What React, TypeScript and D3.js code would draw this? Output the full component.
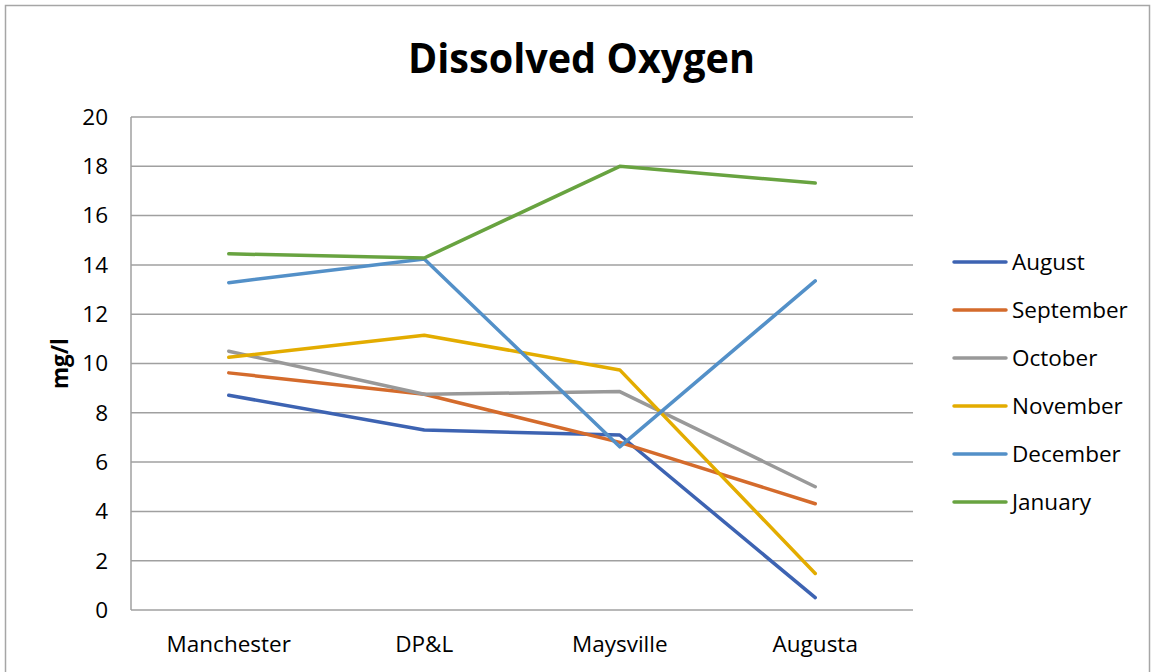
import React from "react";
import * as d3 from "d3";

const categories = ["Manchester", "DP&L", "Maysville", "Augusta"];
const seriesNames = ["August", "September", "October", "November", "December", "January"];
const august = [8.71, 7.3, 7.1, 0.5];
const september = [9.62, 8.75, 6.8, 4.31];
const october = [10.5, 8.75, 8.86, 5.0];
const november = [10.25, 11.15, 9.74, 1.48];
const december = [13.28, 14.24, 6.62, 13.35];
const january = [14.45, 14.28, 18.0, 17.32];
const colors = ["#3D63B2", "#D46B2C", "#999999", "#E3AC00", "#5390C8", "#68A340"];
const yTicks = [0, 2, 4, 6, 8, 10, 12, 14, 16, 18, 20];

const allSeries = [august, september, october, november, december, january];

export default function App() {
  const W = 1153, H = 672;
  const left = 131, right = 913, top = 117, bottom = 610;
  const x = d3.scaleBand().domain(categories).range([left, right]);
  const y = d3.scaleLinear().domain([0, 20]).range([bottom, top]);
  const line = d3
    .line<number>()
    .x((_, i) => (x(categories[i]) as number) + x.bandwidth() / 2)
    .y((d) => y(d));
  const font = "'Open Sans', Lato, sans-serif";
  const fs = 22.5;
  return (
    <svg width={W} height={H} style={{ position: "absolute", left: 0, top: 0 }} fontFamily={font}>
      <rect x={0} y={0} width={W} height={H} fill="#fff" />
      <rect x={5.5} y={5.5} width={1144} height={700} fill="none" stroke="#a6a6a6" strokeWidth={1.5} />
      <text x={581.5} y={73} textAnchor="middle" fontSize={42} fontWeight="bold" fill="#000" textLength={347} lengthAdjust="spacingAndGlyphs">
        Dissolved Oxygen
      </text>
      {yTicks.map((t) => (
        <g key={t}>
          <line x1={left} x2={right} y1={y(t)} y2={y(t)} stroke="#a0a0a0" strokeWidth={1.5} />
          <text x={108} y={y(t)} dy="0.35em" textAnchor="end" fontSize={fs} fill="#000">
            {t}
          </text>
        </g>
      ))}
      <line x1={left} x2={left} y1={top} y2={bottom} stroke="#a0a0a0" strokeWidth={1.5} />
      {categories.map((c) => (
        <text key={c} x={(x(c) as number) + x.bandwidth() / 2} y={652} textAnchor="middle" fontSize={fs} fill="#000">
          {c}
        </text>
      ))}
      <text transform={`translate(68,${y(10)}) rotate(-90)`} textAnchor="middle" fontSize={fs} fontWeight="bold" fill="#000">
        mg/l
      </text>
      {allSeries.map((s, i) => (
        <path key={i} d={line(s) as string} fill="none" stroke={colors[i]} strokeWidth={3.5} strokeLinecap="round" strokeLinejoin="round" />
      ))}
      {seriesNames.map((n, i) => (
        <g key={n} transform={`translate(0,${262 + i * 48})`}>
          <line x1={954} x2={1006} y1={0} y2={0} stroke={colors[i]} strokeWidth={3.5} strokeLinecap="round" />
          <text x={1012} y={0} dy="0.35em" fontSize={fs} fill="#000">
            {n}
          </text>
        </g>
      ))}
    </svg>
  );
}
